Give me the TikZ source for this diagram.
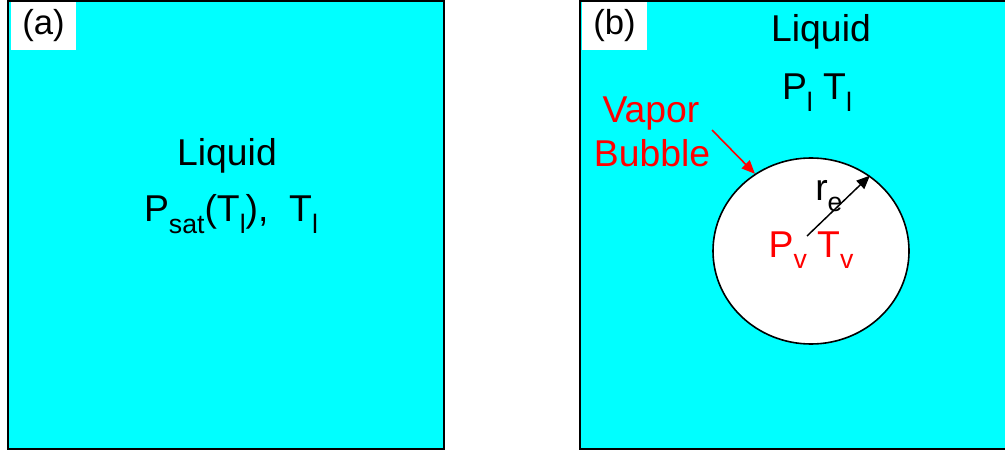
\documentclass[tikz,border=0pt]{standalone}
\usepackage{fontspec}
\setmainfont{Liberation Sans}
\usetikzlibrary{arrows.meta, shapes.geometric}
\definecolor{aqua}{RGB}{0,255,255}
\tikzset{box/.style = {draw, line width = 1.5pt, fill = aqua}}
\tikzset{lbl/.style = {font = \fontsize{28}{32}\selectfont, inner sep = 0pt, anchor = base}}
\tikzset{tag/.style = {lbl, font = \fontsize{26}{30}\selectfont, anchor = center, fill = white, minimum width = 48.75pt, minimum height = 36pt}}
\tikzset{ptr/.style = {line width = 1.2pt, -{Triangle[length = 10pt, width = 8.5pt]}}}
\newcommand{\sbs}[1]{\raisebox{-0.3em}{\fontsize{20}{20}\selectfont #1}}

\begin{document}
\begin{tikzpicture}[x = 0.75pt, y = -0.75pt]
	\useasboundingbox (0, 0) rectangle (1005, 452);
	\clip (0, 0) rectangle (1005, 452);

	% the two cases
	\draw[box] (8, 1) rectangle (444, 449);
	\draw[box] (580, 1) rectangle (1012, 449);
	\node[tag] (taga) at (43.5, 26) {(a)};
	\node[tag] (tagb) at (614.5, 26) {(b)};

	% (a) pure liquid
	\node[lbl] (liqa) at (227, 166) {Liquid};
	\node[lbl] (psat) at (231, 222) {P\sbs{sat}(T\sbs{l}),\ \ T\sbs{l}};

	% (b) liquid with a bubble
	\node[lbl] (liqb) at (821, 42) {Liquid};
	\node[lbl] (plt) at (817, 100) {P\sbs{l} T\sbs{l}};
	\node[draw, ellipse, fill = white, line width = 1.2pt, inner sep = 0pt,
		minimum width = 147pt, minimum height = 139.5pt] (bubble) at (811, 251) {};
	\node[lbl, red] (vap) at (651, 123) {Vapor};
	\node[lbl, red] (bub) at (652, 167) {Bubble};
	\node[lbl, anchor = base west] (re) at (815, 200) {r\sbs{e}};
	\node[lbl, red] (pvt) at (811, 257) {P\sbs{v} T\sbs{v}};

	\coordinate (vtail) at (712, 130);
	\coordinate (rtail) at (807, 236);
	\draw[ptr, red] (vtail) -- (bubble.126);
	\draw[ptr, line width = 1.1pt] (rtail) -- (bubble.52);
\end{tikzpicture}
\end{document}
